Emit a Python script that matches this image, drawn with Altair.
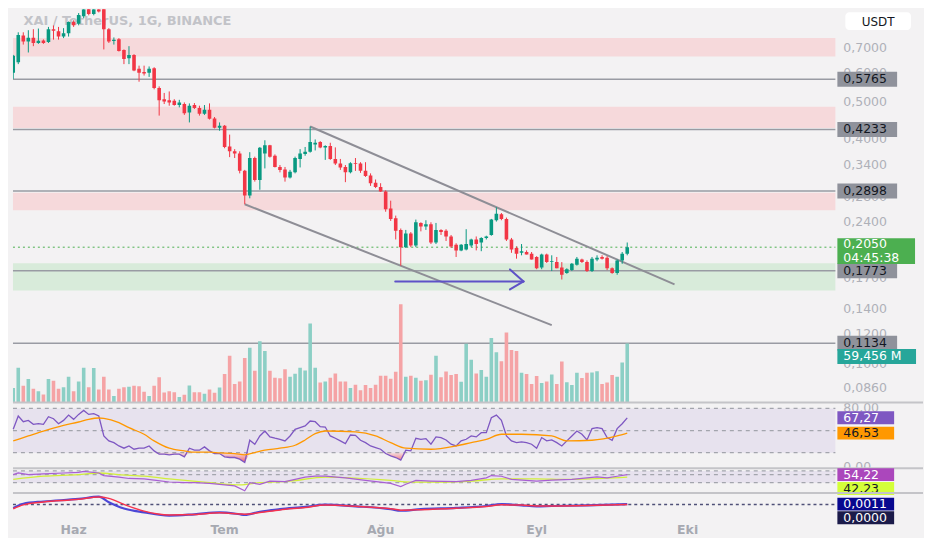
import altair as alt
import pandas as pd

# ------------------------------------------------------------------ data
TITLE = "XAI / TetherUS, 1G, BINANCE"
FIRST_DAY = "2024-05-20"          # first (partly hidden) daily candle
MONTH_ORIGIN = "2024-06-01"       # day 0 for the annotation / indicator day lists

month_starts = ["2024-06-01", "2024-07-01", "2024-08-01", "2024-09-01", "2024-10-01"]
month_labels = ["Haz", "Tem", "Ağu", "Eyl", "Eki"]

open_ = [
    .600, .640, .755, .728, .745, .721, .732, .725, .785, .775,
    .750, .765, .820, .812, .850, .890, .862, .888, .895, .785,
    .730, .738, .690, .656, .670, .615, .603, .600, .617, .546,
    .510, .507, .505, .492, .495, .470, .492, .483, .466, .478,
    .453, .428, .433, .381, .370, .365, .328, .282, .355, .310,
    .365, .384, .360, .336, .331, .315, .325, .353, .364, .369,
    .386, .392, .379, .382, .353, .343, .336, .325, .344, .343,
    .328, .319, .305, .297, .289, .260, .245, .228, .205, .223,
    .207, .238, .233, .236, .211, .228, .227, .219, .208, .201,
    .202, .207, .215, .211, .217, .221, .242, .251, .244, .215,
    .204, .198, .199, .197, .193, .181, .196, .187, .187, .181,
    .175, .178, .184, .190, .187, .177, .190, .193, .192, .180,
    .175, .189, .197]
high = [
    .670, .770, .770, .780, .785, .788, .737, .796, .803, .796,
    .790, .823, .829, .867, .920, .915, .905, .910, .910, .790,
    .746, .743, .693, .707, .673, .627, .627, .624, .621, .552,
    .530, .535, .510, .508, .500, .497, .498, .490, .492, .497,
    .457, .442, .435, .410, .375, .370, .330, .368, .358, .380,
    .396, .385, .363, .340, .336, .330, .358, .375, .380, .431,
    .398, .394, .384, .390, .379, .353, .340, .346, .355, .346,
    .346, .323, .311, .304, .291, .273, .249, .230, .228, .225,
    .243, .239, .242, .239, .238, .229, .229, .221, .210, .209,
    .229, .216, .219, .218, .220, .244, .262, .253, .246, .217,
    .206, .209, .201, .199, .194, .197, .197, .195, .193, .187,
    .180, .186, .193, .191, .189, .193, .195, .195, .194, .181,
    .190, .199, .211]
low = [
    .578, .633, .714, .680, .707, .717, .717, .721, .736, .736,
    .743, .750, .796, .804, .840, .855, .855, .870, .693, .721,
    .714, .684, .633, .633, .606, .568, .590, .585, .542, .461,
    .495, .490, .490, .485, .463, .442, .480, .461, .463, .450,
    .426, .420, .377, .357, .355, .323, .267, .277, .307, .292,
    .333, .356, .335, .325, .307, .313, .323, .335, .360, .367,
    .372, .377, .351, .351, .340, .330, .306, .323, .328, .324,
    .316, .299, .295, .288, .255, .241, .215, .183, .204, .205,
    .205, .226, .228, .209, .209, .221, .213, .204, .193, .200,
    .201, .205, .201, .200, .215, .220, .240, .242, .213, .198,
    .191, .195, .196, .190, .179, .179, .186, .177, .180, .168,
    .174, .177, .183, .186, .176, .176, .188, .190, .178, .174,
    .173, .185, .195]
close = [
    .666, .757, .728, .745, .721, .731, .721, .785, .778, .750,
    .765, .820, .804, .857, .888, .862, .888, .875, .785, .728,
    .736, .686, .653, .670, .609, .600, .597, .615, .546, .507,
    .503, .500, .492, .500, .468, .490, .483, .466, .478, .452,
    .428, .433, .380, .370, .365, .328, .282, .355, .310, .378,
    .384, .358, .336, .330, .315, .326, .355, .365, .369, .392,
    .390, .379, .382, .353, .343, .335, .325, .344, .342, .328,
    .318, .304, .297, .289, .259, .244, .227, .205, .223, .207,
    .239, .233, .236, .211, .228, .225, .219, .206, .201, .208,
    .209, .215, .209, .217, .219, .243, .252, .244, .215, .202,
    .197, .200, .196, .190, .180, .196, .187, .188, .180, .173,
    .179, .185, .191, .187, .177, .191, .192, .191, .180, .175,
    .189, .197, .205]
volume_m = [
    14.6, 35.1, 16.9, 23.7, 13.7, 11.4, 8.1, 23.7, 21.8, 13.7,
    15.3, 26, 11.4, 21.1, 35.1, 15.3, 34.8, 13, 26, 13,
    6.5, 13.7, 15.3, 15.9, 16.9, 16.3, 10.7, 6.5, 16.9, 25.4,
    10.1, 11.4, 10.4, 5.5, 7.8, 17.2, 10.4, 10.4, 8.8, 13,
    9.8, 15, 28.6, 47.1, 18.5, 21.1, 44.9, 55.3, 31.9, 61.8,
    52, 31.9, 25, 24.4, 33.5, 26, 28.9, 35.1, 32.2, 79.6,
    35.1, 20.2, 21.1, 25, 29.3, 21.1, 21.1, 14.6, 17.9, 12.4,
    17.6, 14.6, 17.9, 27, 27, 24, 30.9, 99.1, 26, 27,
    25, 21.8, 22.4, 28, 47.1, 25.4, 31.2, 27.6, 28.6, 20.8,
    59.2, 43.2, 29.3, 32.8, 26, 65, 50.7, 41.6, 70.5, 53,
    52, 29.9, 28.6, 18.5, 26.7, 19.5, 21.1, 28.3, 18.5, 41.3,
    20.5, 17.6, 29.9, 24.7, 29.9, 30.2, 31.5, 18.5, 20.2, 27.6,
    26, 40.3, 59.456]
rsi_values = [
    51.7, 69.7, 62.0, 63.8, 58.4, 59.3, 58.4, 68.8, 66.1, 59.3,
    63.8, 71.0, 65.2, 71.9, 77.3, 71.9, 72.8, 69.7, 42.7, 36.0,
    33.7, 29.2, 26.1, 29.2, 24.7, 26.1, 26.1, 29.2, 22.5, 18.0,
    18.0, 17.1, 18.0, 18.0, 14.4, 26.1, 23.4, 23.4, 27.9, 22.5,
    18.9, 18.9, 14.4, 13.5, 13.5, 11.3, 6.8, 36.9, 31.5, 42.7,
    49.4, 41.4, 39.6, 38.2, 36.0, 42.7, 51.7, 53.9, 56.2, 62.9,
    62.0, 55.3, 54.8, 42.7, 39.6, 36.0, 32.4, 44.0, 43.6, 36.9,
    33.7, 29.2, 27.0, 24.7, 18.9, 15.7, 13.5, 9.9, 23.4, 22.5,
    39.6, 38.2, 39.1, 31.5, 41.4, 40.5, 37.3, 31.5, 29.2, 36.0,
    38.2, 42.7, 41.4, 47.2, 47.2, 67.4, 71.0, 63.8, 42.7, 36.0,
    33.7, 34.6, 33.7, 31.5, 26.1, 40.5, 36.0, 37.3, 33.7, 29.2,
    36.0, 42.7, 49.4, 45.0, 37.3, 52.6, 53.9, 52.6, 40.5, 36.9,
    52.6, 59.3, 67.27]

rsi_ma_days = [-12, -9, -6, -2, 1, 3, 5, 6, 9, 11, 14, 16, 19, 22, 24, 27, 29, 32, 34, 36,
               38, 41, 44, 46, 48, 50, 56, 60, 63, 66, 71, 76, 79, 82, 85, 89, 95, 98, 103, 108, 110]
rsi_ma = [36.0, 42.7, 49.4, 57.1, 61.6, 65.2, 67.0, 66.5, 60.7, 53.9, 45.0, 36.0, 26.1, 22.5, 20.7,
          20.7, 19.8, 18.9, 17.1, 20.2, 23.4, 26.1, 30.1, 37.3, 45.8, 49.4, 48.1, 42.7, 33.7, 26.1,
          24.7, 29.2, 33.7, 38.2, 45.0, 45.0, 42.7, 36.0, 36.9, 42.7, 46.53]

osc_fast_days = [-12, -11, -9, -6, -2, 1, 2, 5, 6, 9, 11, 14, 16, 19, 22, 24, 27, 29, 32, 34,
                 35, 37, 39, 42, 44, 46, 48, 50, 54, 58, 63, 65, 66, 68, 71, 76, 79, 82, 83, 85,
                 87, 92, 95, 99, 102, 104, 106, 108, 110]
osc_fast = [54.3, 62, 54.3, 57.4, 62, 65.1, 69.7, 62, 49.7, 42, 35.9, 34.3, 28.2, 19, 15.9, 15.9,
            12.8, 8.2, 0.5, -22.5, 15.9, 8.2, 23.6, 20.5, 31.3, 42, 46.6, 46.6, 38.9, 26.7, 12.8,
            -2.5, 8.2, 26.7, 23.6, 20.5, 26.7, 38.9, 49.7, 46.6, 31.3, 23.6, 28.2, 31.3, 38.9, 43.5,
            38.9, 46.6, 54.22]
osc_slow_days = [-12, -6, 1, 5, 9, 14, 20, 27, 33, 37, 43, 50, 56, 63, 67, 73, 79, 85, 92, 98, 105, 110]
osc_slow = [31.3, 46.6, 54.3, 62, 54.3, 46.6, 31.3, 15.9, 5.1, 15.9, 23.6, 42, 37.4, 26.7, 19, 19,
            23.6, 34.3, 34.3, 31.3, 35.9, 42.23]

macd_days = [-12, -10, -6, 1, 5, 7, 10, 14, 19, 24, 29, 33, 34, 37, 41, 46, 50, 56, 63, 65,
             69, 76, 82, 85, 89, 92, 95, 102, 110]
macd_line = [-0.0147, 0.0027, 0.012, 0.0226, 0.0319, 0.0093, -0.0173, -0.0333, -0.0466, -0.0412,
             -0.0333, -0.0412, -0.0439, -0.0306, -0.02, -0.0106, -0.0013, -0.008, -0.02, -0.0266,
             -0.02, -0.0147, -0.0067, 0.0013, -0.004, -0.008, -0.0067, -0.004, 0.0011]
macd_signal = [-0.018, -0.002, 0.01, 0.021, 0.031, 0.025, 0.0, -0.028, -0.044, -0.042,
               -0.035, -0.04, -0.041, -0.034, -0.023, -0.013, -0.003, -0.008, -0.018, -0.024,
               -0.022, -0.016, -0.009, -0.002, -0.003, -0.007, -0.007, -0.005, 0.0]

# horizontal levels and zones drawn on the price pane
level_prices = [0.5765, 0.4233, 0.2898, 0.1773, 0.1134]
level_labels = ["0,5765", "0,4233", "0,2898", "0,1773", "0,1134"]
red_zone_low = [0.663, 0.427, 0.2575]
red_zone_high = [0.743, 0.487, 0.2867]
green_zone_low = [0.157]
green_zone_high = [0.1857]
last_price = 0.2050
last_volume = 59.456

# trend channel and arrow (day offset from 1 June, price)
chan_d0 = [47, 34]
chan_p0 = [0.431, 0.267]
chan_d1 = [119.4, 95]
chan_p1 = [0.163, 0.1268]
arrow_d0 = [63.9, 86.7, 86.7]
arrow_p0 = [0.166, 0.1788, 0.158]
arrow_d1 = [89.4, 89.4, 89.4]
arrow_p1 = [0.166, 0.166, 0.166]

# right-hand scale labels
price_ticks = [0.7, 0.6, 0.5, 0.4, 0.34, 0.28, 0.24, 0.17, 0.14, 0.12, 0.1, 0.086]
price_tick_labels = ["0,7000", "0,6000", "0,5000", "0,4000", "0,3400", "0,2800", "0,2400",
                     "0,1700", "0,1400", "0,1200", "0,1000", "0,0860"]
rsi_ticks = [80, 0]
rsi_tick_labels = ["80,00", "0,00"]

# ------------------------------------------------------------------ layout / style
W = 826
H_PRICE, H_RSI, H_OSC, H_MACD = 395, 66, 25, 28
BG = "#f3f2f3"
UP, DOWN = "#089981", "#f23645"
VUP, VDOWN = "#8ccfc5", "#f5a3a5"
FONT = "DejaVu Sans"
AXIS_TXT = "#aeb0b8"

BASE = pd.Timestamp(MONTH_ORIGIN)


def to_dates(days):
    return [BASE + pd.Timedelta(days=float(d)) for d in days]


candle_dates = pd.date_range(FIRST_DAY, periods=len(open_), freq="D")
cdf = pd.DataFrame({"date": candle_dates, "o": open_, "h": high, "l": low, "c": close,
                    "v": volume_m, "rsi": rsi_values})

XSCALE = alt.Scale(domain=[alt.DateTime(year=2024, month=5, date=19, hours=22, minutes=48),
                           alt.DateTime(year=2024, month=10, date=30, hours=8, minutes=38)],
                   nice=False, padding=0)
X = alt.X("date:T", scale=XSCALE, axis=None)
PS = alt.Scale(type="log", domain=[0.0788, 0.888], nice=False)
VS = alt.Scale(domain=[0, 397], nice=False, zero=True)
RS = alt.Scale(domain=[-0.9, 88.1], nice=False, zero=False)
OS = alt.Scale(domain=[-33.4, 85], nice=False, zero=False)
MS = alt.Scale(domain=[-0.0688, 0.0472], nice=False, zero=False)

is_up = alt.datum.c >= alt.datum.o


def rect_path(w, h):
    r = h / w
    return f"M-1,-{r:.4f}L1,-{r:.4f}L1,{r:.4f}L-1,{r:.4f}Z"


def tag(df, scale, w, h, yoff=0.0, text_dy=0.0, fs=12.5):
    box = alt.Chart(df).mark_point(shape=rect_path(w, h), size=w * w, filled=True, opacity=1,
                                   strokeWidth=0, yOffset=yoff).encode(
        x=alt.value(W + 2 + w / 2), y=alt.Y("val:Q", scale=scale, axis=None),
        color=alt.Color("bg:N", scale=None))
    txt = alt.Chart(df).mark_text(align="left", baseline="middle", fontSize=fs, font=FONT,
                                  dy=yoff + text_dy).encode(
        x=alt.value(W + 8), y=alt.Y("val:Q", scale=scale, axis=None), text="txt:N",
        color=alt.Color("fg:N", scale=None))
    return [box, txt]


def scale_labels(vals, labels, scale):
    return alt.Chart(pd.DataFrame({"val": vals, "txt": labels})).mark_text(
        align="left", baseline="middle", fontSize=12.5, font=FONT, color=AXIS_TXT).encode(
        x=alt.value(W + 8), y=alt.Y("val:Q", scale=scale, axis=None), text="txt:N")


def separator():
    return alt.Chart(pd.DataFrame({"k": [0]})).mark_rule(color="#c4c4c8", strokeWidth=2).encode(
        x=alt.value(0), x2=alt.value(W + 88), y=alt.value(0))


def hlines(vals, scale, color, dash=(4, 4), width=1.2):
    return alt.Chart(pd.DataFrame({"val": vals})).mark_rule(color=color, strokeDash=list(dash),
                                                           strokeWidth=width).encode(
        x=alt.value(0), x2=alt.value(W), y=alt.Y("val:Q", scale=scale, axis=None))


# ------------------------------------------------------------------ price pane
zones = pd.DataFrame({
    "lo": red_zone_low + green_zone_low,
    "hi": red_zone_high + green_zone_high,
    "kind": ["r"] * len(red_zone_low) + ["g"] * len(green_zone_low)})
zone_layer = alt.Chart(zones).mark_rect().encode(
    x=alt.value(0), x2=alt.value(W),
    y=alt.Y("lo:Q", scale=PS, axis=None), y2="hi:Q",
    color=alt.Color("kind:N", scale=alt.Scale(domain=["r", "g"], range=["#f6d9db", "#d8ebda"]), legend=None))

title_layer = alt.Chart(pd.DataFrame({"t": [TITLE]})).mark_text(
    align="left", baseline="middle", font=FONT, fontSize=13, fontWeight="bold", color="#c2c3c8").encode(
    x=alt.value(10.5), y=alt.value(12), text="t:N")

level_layer = alt.Chart(pd.DataFrame({"val": level_prices})).mark_rule(color="#999ba3", strokeWidth=1.5).encode(
    x=alt.value(0), x2=alt.value(W), y=alt.Y("val:Q", scale=PS, axis=None))
last_layer = alt.Chart(pd.DataFrame({"val": [last_price]})).mark_rule(
    color="#4caf50", strokeWidth=1, strokeDash=[2, 3]).encode(
    x=alt.value(0), x2=alt.value(W), y=alt.Y("val:Q", scale=PS, axis=None))
price_scale_txt = scale_labels(price_ticks, price_tick_labels, PS)

vol_layer = alt.Chart(cdf).mark_bar(size=3.6, clip=True).encode(
    x=X, y=alt.Y("v:Q", scale=VS, axis=None),
    color=alt.condition(is_up, alt.value(VUP), alt.value(VDOWN)))
vol_tag = tag(pd.DataFrame({"val": [last_volume], "txt": ["59,456 M"], "bg": ["#26a69a"], "fg": ["white"]}),
              VS, 79, 15, yoff=13)

chan_df = pd.DataFrame({"x0": to_dates(chan_d0), "x1": to_dates(chan_d1), "p0": chan_p0, "p1": chan_p1})
chan_layer = alt.Chart(chan_df).mark_rule(color="#8e8e96", strokeWidth=2, clip=True).encode(
    x=alt.X("x0:T", scale=XSCALE, axis=None), x2="x1:T",
    y=alt.Y("p0:Q", scale=PS, axis=None), y2="p1:Q")
arrow_df = pd.DataFrame({"x0": to_dates(arrow_d0), "x1": to_dates(arrow_d1), "p0": arrow_p0, "p1": arrow_p1})
arrow_layer = alt.Chart(arrow_df).mark_rule(color="#5e52c7", strokeWidth=2, strokeCap="round").encode(
    x=alt.X("x0:T", scale=XSCALE, axis=None), x2="x1:T",
    y=alt.Y("p0:Q", scale=PS, axis=None), y2="p1:Q")

wick_layer = alt.Chart(cdf).mark_rule(strokeWidth=1, clip=True).encode(
    x=X, y=alt.Y("l:Q", scale=PS, axis=None), y2="h:Q",
    color=alt.condition(is_up, alt.value(UP), alt.value(DOWN)))
body_layer = alt.Chart(cdf).mark_bar(size=3.6, clip=True).encode(
    x=X, y=alt.Y("o:Q", scale=PS, axis=None), y2="c:Q",
    color=alt.condition(is_up, alt.value(UP), alt.value(DOWN)))

gray_tags = tag(pd.DataFrame({"val": level_prices, "txt": level_labels,
                              "bg": ["#8f929b"] * len(level_prices), "fg": ["#131722"] * len(level_prices)}),
                PS, 60, 15)
last_df = pd.DataFrame({"val": [last_price], "txt": ["0,2050"], "bg": ["#4caf50"], "fg": ["white"]})
green_tag = tag(last_df, PS, 78, 26, yoff=4, text_dy=-7)
timer_txt = alt.Chart(pd.DataFrame({"val": [last_price], "txt": ["04:45:38"]})).mark_text(
    align="left", baseline="middle", fontSize=12.5, font=FONT, dy=11, color="white").encode(
    x=alt.value(W + 8), y=alt.Y("val:Q", scale=PS, axis=None), text="txt:N")

usdt_box = alt.Chart(pd.DataFrame({"k": [0]})).mark_rect(color="white", cornerRadius=4).encode(
    x=alt.value(W + 10), x2=alt.value(W + 76), y=alt.value(3), y2=alt.value(21))
usdt_txt = alt.Chart(pd.DataFrame({"t": ["USDT"]})).mark_text(
    align="center", baseline="middle", font=FONT, fontSize=12, color="#131722").encode(
    x=alt.value(W + 43), y=alt.value(12.5), text="t:N")

back = alt.layer(zone_layer, title_layer, level_layer, last_layer, price_scale_txt)
vol_group = alt.layer(vol_layer)
front = alt.layer(chan_layer, arrow_layer, wick_layer, body_layer, *gray_tags, *green_tag, timer_txt,
                  usdt_box, usdt_txt)
vol_tags = alt.layer(*vol_tag)
price_pane = alt.layer(back, vol_group, front, vol_tags).resolve_scale(y="independent").properties(
    width=W, height=H_PRICE)

# ------------------------------------------------------------------ RSI pane
rsi_band = alt.Chart(pd.DataFrame({"a": [80], "b": [20]})).mark_rect(color="#e7e2ee").encode(
    x=alt.value(0), x2=alt.value(W), y=alt.Y("a:Q", scale=RS, axis=None), y2="b:Q")
rsi_dash = hlines([80, 50, 20], RS, "#a3a5ad")
rsi_fill = alt.Chart(cdf).transform_calculate(lo="min(datum.rsi, 20)", top="20").mark_area(
    color=alt.Gradient(gradient="linear",
                       stops=[alt.GradientStop(color="rgba(242,54,69,0.10)", offset=0),
                              alt.GradientStop(color="rgba(242,54,69,0.80)", offset=1)],
                       x1=0, x2=0, y1=0, y2=1)).encode(
    x=X, y=alt.Y("lo:Q", scale=RS, axis=None), y2="top:Q")
rsi_line = alt.Chart(cdf).mark_line(color="#7e57c2", strokeWidth=1.3).encode(
    x=X, y=alt.Y("rsi:Q", scale=RS, axis=None))
ma_df = pd.DataFrame({"date": to_dates(rsi_ma_days), "val": rsi_ma})
rsi_ma_line = alt.Chart(ma_df).mark_line(color="#ff9800", strokeWidth=1.3, interpolate="monotone").encode(
    x=X, y=alt.Y("val:Q", scale=RS, axis=None))
rsi_scale_txt = scale_labels(rsi_ticks, rsi_tick_labels, RS)
rsi_tags = tag(pd.DataFrame({"val": [67.27], "txt": ["67,27"], "bg": ["#7e57c2"], "fg": ["white"]}), RS, 57, 13) + \
    tag(pd.DataFrame({"val": [46.53], "txt": ["46,53"], "bg": ["#ff9800"], "fg": ["#131722"]}), RS, 57, 13)
rsi_pane = alt.layer(rsi_band, rsi_dash, rsi_fill, rsi_line, rsi_ma_line, rsi_scale_txt, separator(),
                     *rsi_tags).properties(width=W, height=H_RSI)

# ------------------------------------------------------------------ second oscillator pane
osc_band = alt.Chart(pd.DataFrame({"a": [72], "b": [16]})).mark_rect(color="#e7e2ee").encode(
    x=alt.value(0), x2=alt.value(W), y=alt.Y("a:Q", scale=OS, axis=None), y2="b:Q")
osc_dash = hlines([72, 54, 16], OS, "#a3a5ad")
fast_df = pd.DataFrame({"date": to_dates(osc_fast_days), "val": osc_fast})
slow_df = pd.DataFrame({"date": to_dates(osc_slow_days), "val": osc_slow})
osc_slow_line = alt.Chart(slow_df).mark_line(color="#d2ee3a", strokeWidth=1.3, interpolate="monotone").encode(
    x=X, y=alt.Y("val:Q", scale=OS, axis=None))
osc_fast_line = alt.Chart(fast_df).mark_line(color="#a85fd3", strokeWidth=1.2).encode(
    x=X, y=alt.Y("val:Q", scale=OS, axis=None))
osc_tags = tag(pd.DataFrame({"val": [54.22], "txt": ["54,22"], "bg": ["#ab47bc"], "fg": ["white"]}), OS, 57, 13) + \
    tag(pd.DataFrame({"val": [42.23], "txt": ["42,23"], "bg": ["#d4ff3a"], "fg": ["#131722"]}), OS, 57, 13, yoff=11.5)
osc_pane = alt.layer(osc_band, osc_dash, osc_slow_line, osc_fast_line, separator(), *osc_tags).properties(
    width=W, height=H_OSC)

# ------------------------------------------------------------------ MACD pane
macd_df = pd.DataFrame({"date": to_dates(macd_days), "m": macd_line, "s": macd_signal})
macd_zero = hlines([0], MS, "#4f5178", dash=(3, 3), width=1.5)
macd_l = alt.Chart(macd_df).mark_line(color="#4c47d6", strokeWidth=2.2, interpolate="monotone").encode(
    x=X, y=alt.Y("m:Q", scale=MS, axis=None))
macd_s = alt.Chart(macd_df).mark_line(color="#f7334d", strokeWidth=1.5, interpolate="monotone").encode(
    x=X, y=alt.Y("s:Q", scale=MS, axis=None))
macd_tags = tag(pd.DataFrame({"val": [0.0011], "txt": ["0,0011"], "bg": ["#08088f"], "fg": ["white"]}), MS, 57, 13) + \
    tag(pd.DataFrame({"val": [0.0], "txt": ["0,0000"], "bg": ["#1b1b4a"], "fg": ["white"]}), MS, 57, 13, yoff=13.5)
month_df = pd.DataFrame({"date": pd.to_datetime(month_starts), "txt": month_labels})
month_txt = alt.Chart(month_df).mark_text(
    align="center", baseline="middle", font=FONT, fontSize=12.5, fontWeight="bold", color="#a6a9b1").encode(
    x=X, y=alt.value(H_MACD + 9), text="txt:N")
macd_pane = alt.layer(macd_zero, macd_l, macd_s, separator(), *macd_tags, month_txt).properties(
    width=W, height=H_MACD)

chart = alt.vconcat(price_pane, rsi_pane, osc_pane, macd_pane, spacing=0, bounds="flush").properties(
    padding={"left": 0, "top": 0, "right": 0, "bottom": 0}, background=BG
).configure_view(stroke=None)

chart.save("out.html", embed_options={"renderer": "svg", "actions": False})
